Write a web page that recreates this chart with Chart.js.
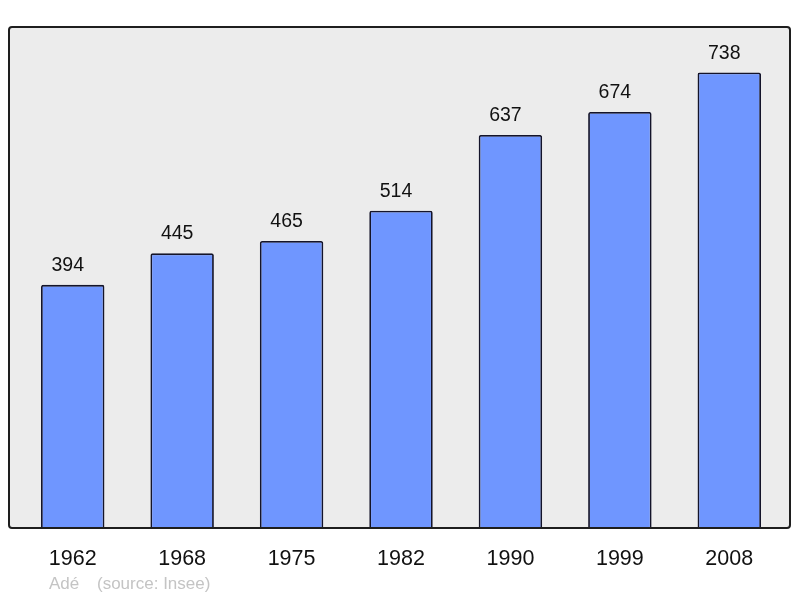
<!DOCTYPE html>
<html>
<head>
<meta charset="utf-8">
<title>Population</title>
<script src="https://cdn.jsdelivr.net/npm/chart.js@4.4.1/dist/chart.umd.min.js"></script>
<style>
  html, body { margin: 0; padding: 0; background: #fff; }
  #wrap { width: 800px; height: 598px; }
</style>
</head>
<body>
<div id="wrap"><canvas id="chart" width="800" height="598"></canvas></div>
<script>
// census years and population counts
const years = ['1962', '1968', '1975', '1982', '1990', '1999', '2008'];
const population = [394, 445, 465, 514, 637, 674, 738];
const sourceNote = ['Adé', '(source: Insee)'];

const FONT = '"Liberation Sans", Arial, sans-serif';

// grey panel behind the bars, dark frame on top
const framePlugin = {
    id: 'frame',
    beforeDraw(chart) {
        const ctx = chart.ctx;
        const a = chart.chartArea;
        ctx.save();
        ctx.fillStyle = '#ececec';
        ctx.beginPath();
        ctx.roundRect(a.left - 9, a.top, a.right - a.left + 15, a.bottom - a.top, 3);
        ctx.fill();
        ctx.restore();
    },
    afterDatasetsDraw(chart) {
        const ctx = chart.ctx;
        const a = chart.chartArea;
        ctx.save();
        ctx.strokeStyle = '#1e1e1e';
        ctx.lineWidth = 2;
        ctx.beginPath();
        ctx.roundRect(a.left - 9, a.top, a.right - a.left + 15, a.bottom - a.top, 3);
        ctx.stroke();

        // value labels above each bar
        const meta = chart.getDatasetMeta(0);
        ctx.fillStyle = '#111';
        ctx.font = '19.5px ' + FONT;
        ctx.textAlign = 'center';
        ctx.textBaseline = 'alphabetic';
        meta.data.forEach((bar, i) => {
            ctx.fillText(String(population[i]), bar.x - 5, bar.y - 14);
        });

        // source note
        ctx.fillStyle = '#c4c4c4';
        ctx.font = '17px ' + FONT;
        ctx.textAlign = 'left';
        ctx.fillText(sourceNote[0], 49, 589);
        ctx.fillText(sourceNote[1], 97, 589);
        ctx.restore();
    }
};

new Chart(document.getElementById('chart'), {
    type: 'bar',
    data: {
        labels: years,
        datasets: [{
            data: population,
            backgroundColor: '#6f96ff',
            borderColor: '#14142a',
            borderWidth: 1.8,
            borderRadius: 2,
            borderSkipped: 'bottom',
            barPercentage: 0.58,
            categoryPercentage: 1
        }]
    },
    options: {
        responsive: false,
        animation: false,
        devicePixelRatio: 1,
        layout: { padding: { top: 27, left: 18, right: 16, bottom: 0 } },
        plugins: {
            legend: { display: false },
            tooltip: { enabled: false }
        },
        scales: {
            x: {
                grid: { display: false, drawTicks: false },
                border: { display: false },
                ticks: {
                    color: '#111',
                    padding: 18,
                    font: { family: FONT, size: 21.5 }
                },
                afterFit(scale) { scale.height = 70; }
            },
            y: {
                display: false,
                min: 0,
                max: 738 * 1.1
            }
        }
    },
    plugins: [framePlugin]
});
</script>
</body>
</html>
